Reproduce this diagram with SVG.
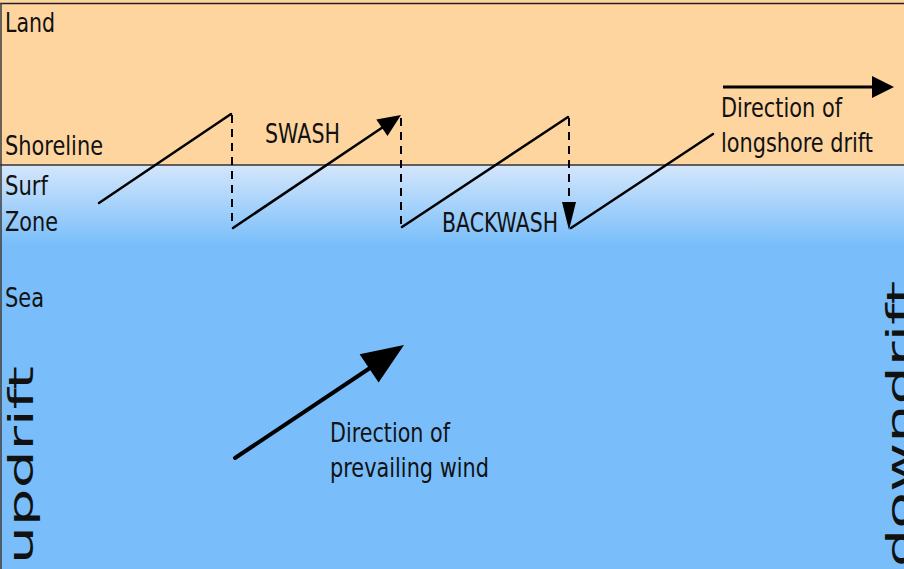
<svg xmlns="http://www.w3.org/2000/svg" width="904" height="569" viewBox="0 0 904 569">
  <defs>
    <linearGradient id="surf" x1="0" y1="165" x2="0" y2="245" gradientUnits="userSpaceOnUse">
      <stop offset="0" stop-color="#d4e6fc"/>
      <stop offset="1" stop-color="#79befa"/>
    </linearGradient>
    <style>
      text { font-family: "DejaVu Sans", "Liberation Sans", sans-serif; font-size: 27px; fill: #111; }
      .side { font-size: 33px; }
      .wave { stroke: #000; stroke-width: 2.5; fill: none; stroke-linecap: round; }
      .dash { stroke: #000; stroke-width: 2; fill: none; stroke-dasharray: 8 6; }
      .head { fill: #000; stroke: none; }
    </style>
  </defs>

  <g id="background">
    <rect x="0" y="0" width="904" height="569" fill="#79befa"/>
    <rect x="0" y="0" width="904" height="165" fill="#fed59f"/>
    <rect x="0" y="165" width="904" height="80" fill="url(#surf)"/>
    <line x1="0" y1="3.5" x2="904" y2="3.5" stroke="#222" stroke-width="1.6"/>
    <line x1="1" y1="3" x2="1" y2="569" stroke="#444" stroke-width="1.6"/>
    <line x1="0" y1="165" x2="904" y2="165" stroke="#333" stroke-width="1.4"/>
  </g>

  <g id="zone-labels">
    <text x="5" y="32" textLength="50" lengthAdjust="spacingAndGlyphs">Land</text>
    <text x="5" y="155" textLength="98" lengthAdjust="spacingAndGlyphs">Shoreline</text>
    <text x="5" y="195" textLength="43" lengthAdjust="spacingAndGlyphs">Surf</text>
    <text x="5" y="231" textLength="53" lengthAdjust="spacingAndGlyphs">Zone</text>
    <text x="5" y="307" textLength="39" lengthAdjust="spacingAndGlyphs">Sea</text>
  </g>

  <g id="side-labels">
    <text class="side" transform="translate(33,564) rotate(-90)" textLength="198" lengthAdjust="spacingAndGlyphs">updrift</text>
    <text class="side" transform="translate(911,567) rotate(-90)" textLength="286" lengthAdjust="spacingAndGlyphs">downdrift</text>
  </g>

  <g id="swash-label"><text x="265" y="143" textLength="75" lengthAdjust="spacingAndGlyphs">SWASH</text></g>
  <g id="backwash-label"><text x="442" y="232" textLength="116" lengthAdjust="spacingAndGlyphs">BACKWASH</text></g>
  <g id="longshore-label">
    <text x="721" y="117" textLength="121" lengthAdjust="spacingAndGlyphs">Direction of</text>
    <text x="721" y="152" textLength="152" lengthAdjust="spacingAndGlyphs">longshore drift</text>
  </g>
  <g id="wind-label">
    <text x="330" y="442" textLength="120" lengthAdjust="spacingAndGlyphs">Direction of</text>
    <text x="330" y="477" textLength="159" lengthAdjust="spacingAndGlyphs">prevailing wind</text>
  </g>

  <g id="connectors">
    <line class="wave" x1="99" y1="203" x2="231" y2="114"/>
    <line class="dash" x1="232" y1="115" x2="232" y2="224"/>
    <line class="wave" x1="233" y1="228" x2="382" y2="127.8"/>
    <polygon class="head" points="401,115 387.5,136.1 376.3,119.5"/>
    <line class="dash" x1="401" y1="118" x2="401" y2="227"/>
    <line class="wave" x1="402" y1="227" x2="568" y2="117"/>
    <line class="dash" x1="569" y1="118" x2="569" y2="203"/>
    <polygon class="head" points="569,230 562,202 576,202"/>
    <line class="wave" x1="571" y1="228" x2="713" y2="134"/>
    <line x1="723" y1="87" x2="873" y2="87" stroke="#000" stroke-width="3"/>
    <polygon class="head" points="894,87 872,76 872,98"/>
    <line x1="235" y1="458" x2="370" y2="368" stroke="#000" stroke-width="4" stroke-linecap="round"/>
    <polygon class="head" points="404,345 378.6,382.5 359.6,354.3"/>
  </g>
</svg>
